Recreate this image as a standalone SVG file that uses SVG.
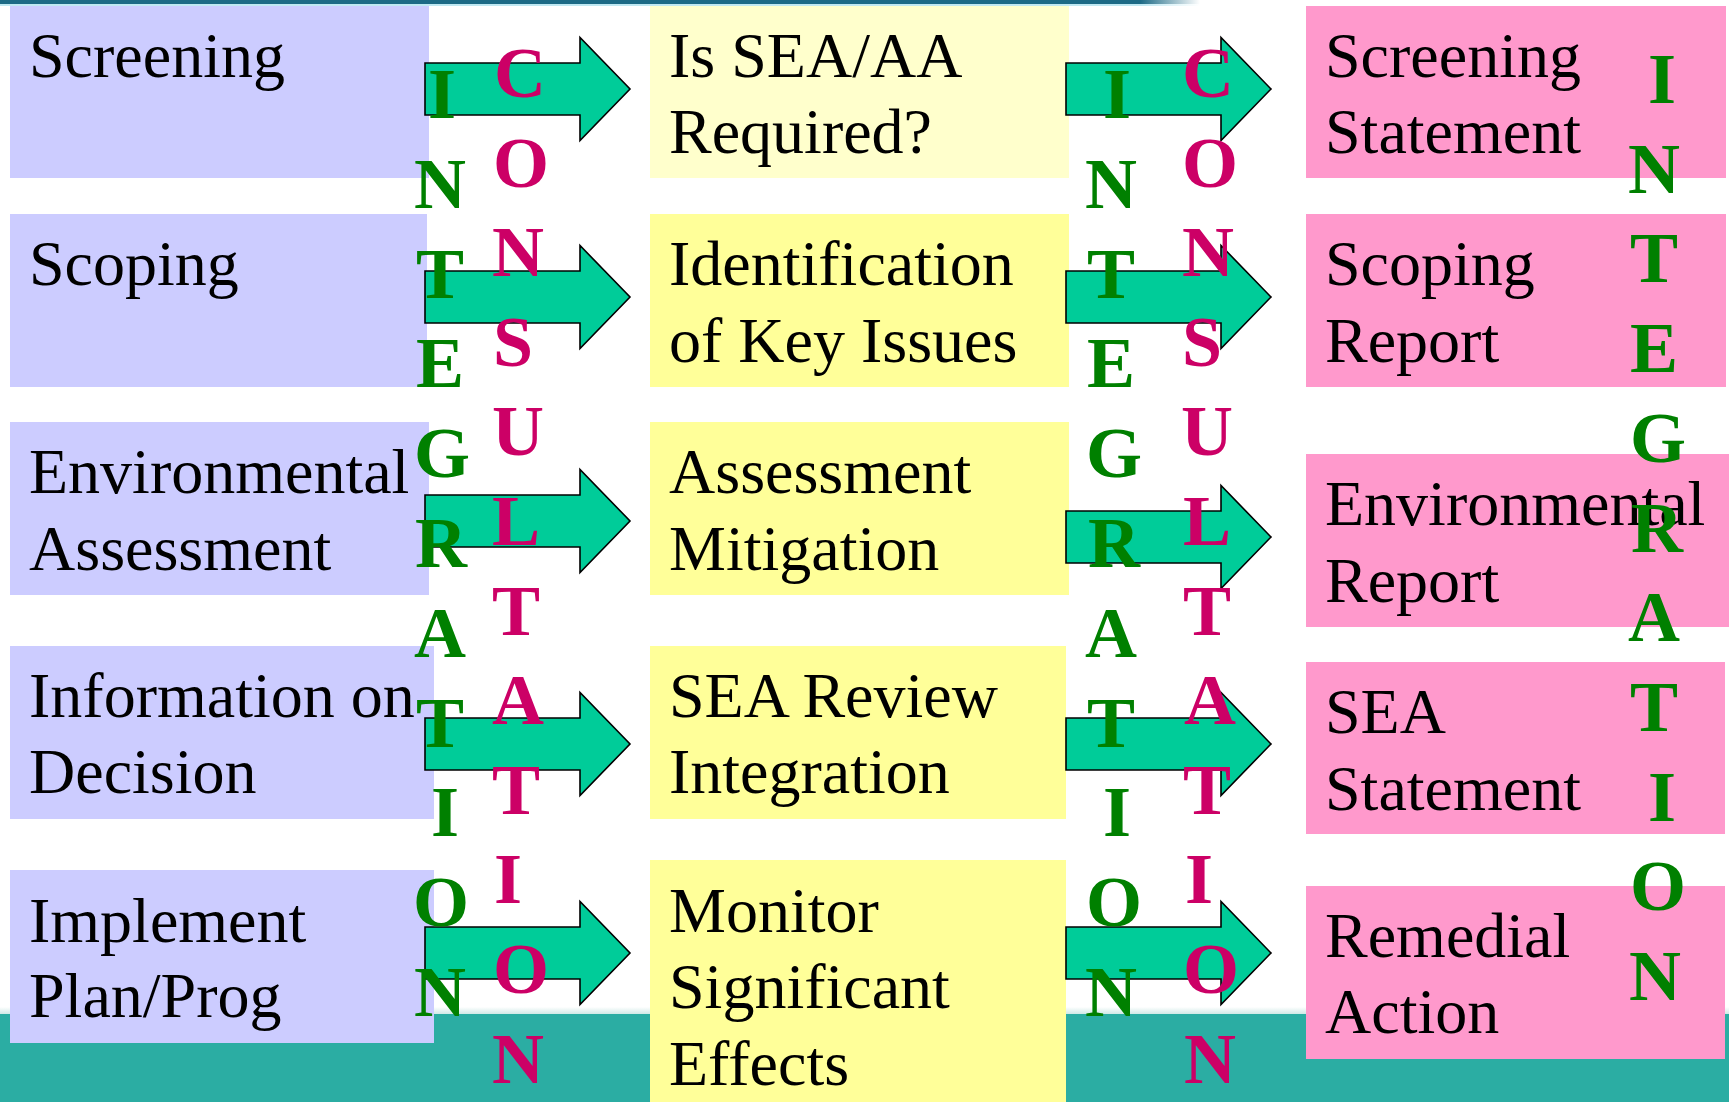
<svg xmlns="http://www.w3.org/2000/svg" width="1729" height="1102" viewBox="0 0 1729 1102">
  <defs>
    <linearGradient id="topLine" x1="0" y1="0" x2="1" y2="0">
      <stop offset="0" stop-color="#1C6A86"/>
      <stop offset="0.95" stop-color="#1C6A86"/>
      <stop offset="1" stop-color="#1C6A86" stop-opacity="0"/>
    </linearGradient>
    <linearGradient id="topGlow" x1="0" y1="0" x2="1" y2="0">
      <stop offset="0" stop-color="#BFE8F2"/>
      <stop offset="0.95" stop-color="#BFE8F2"/>
      <stop offset="1" stop-color="#BFE8F2" stop-opacity="0"/>
    </linearGradient>
    <linearGradient id="bandEdge" x1="0" y1="0" x2="0" y2="1">
      <stop offset="0" stop-color="#FFFFFF"/>
      <stop offset="1" stop-color="#CFE9E6"/>
    </linearGradient>
    <path id="arrow" d="M0,-26 H155 V-51.5 L205,0 L155,51.5 V26 H0 Z"/>
  </defs>
  <style>
    .lav { fill: #CCCCFF; }
    .yel1 { fill: #FFFFCC; }
    .yel { fill: #FFFF99; }
    .pink { fill: #FF99CC; }
    .lbl { font-family: "Liberation Serif", "Times New Roman", serif; font-size: 64px; fill: #000000; }
    .arr { fill: #00CC99; stroke: #000000; stroke-width: 1.6; stroke-linejoin: miter; }
    .vg { font-family: "Liberation Serif", "Times New Roman", serif; font-size: 72px; font-weight: bold; fill: #008000; text-anchor: middle; }
    .vm { font-family: "Liberation Serif", "Times New Roman", serif; font-size: 72px; font-weight: bold; fill: #CC0066; text-anchor: middle; }
  </style>

  <!-- background -->
  <rect x="0" y="0" width="1729" height="1102" fill="#FFFFFF"/>
  <rect x="0" y="0" width="1200" height="4" fill="url(#topLine)"/>
  <rect x="0" y="4" width="1200" height="2" fill="url(#topGlow)"/>
  <rect x="0" y="1007" width="1729" height="7" fill="url(#bandEdge)"/>
  <rect x="0" y="1014" width="1729" height="88" fill="#2BADA3"/>

  <!-- left column -->
  <g id="n-screening">
    <rect class="lav" x="10" y="6" width="419" height="172"/>
    <text class="lbl" x="29" y="77">Screening</text>
  </g>
  <g id="n-scoping">
    <rect class="lav" x="10" y="214" width="417" height="173"/>
    <text class="lbl" x="29" y="285">Scoping</text>
  </g>
  <g id="n-env-assessment">
    <rect class="lav" x="10" y="422" width="419" height="173"/>
    <text class="lbl" x="29" y="493">Environmental</text>
    <text class="lbl" x="29" y="570">Assessment</text>
  </g>
  <g id="n-info-decision">
    <rect class="lav" x="10" y="646" width="424" height="173"/>
    <text class="lbl" x="29" y="717">Information on</text>
    <text class="lbl" x="29" y="793">Decision</text>
  </g>
  <g id="n-implement">
    <rect class="lav" x="10" y="870" width="424" height="173"/>
    <text class="lbl" x="29" y="942">Implement</text>
    <text class="lbl" x="29" y="1017">Plan/Prog</text>
  </g>

  <!-- middle column -->
  <g id="n-required">
    <rect class="yel1" x="650" y="6" width="419" height="172"/>
    <text class="lbl" x="669" y="77">Is SEA/AA</text>
    <text class="lbl" x="669" y="153">Required?</text>
  </g>
  <g id="n-key-issues">
    <rect class="yel" x="650" y="214" width="419" height="173"/>
    <text class="lbl" x="669" y="285">Identification</text>
    <text class="lbl" x="669" y="362">of Key Issues</text>
  </g>
  <g id="n-mitigation">
    <rect class="yel" x="650" y="422" width="419" height="173"/>
    <text class="lbl" x="669" y="493">Assessment</text>
    <text class="lbl" x="669" y="570">Mitigation</text>
  </g>
  <g id="n-review">
    <rect class="yel" x="650" y="646" width="416" height="173"/>
    <text class="lbl" x="669" y="717">SEA Review</text>
    <text class="lbl" x="669" y="793">Integration</text>
  </g>
  <g id="n-monitor">
    <rect class="yel" x="650" y="860" width="416" height="242"/>
    <text class="lbl" x="669" y="932">Monitor</text>
    <text class="lbl" x="669" y="1008">Significant</text>
    <text class="lbl" x="669" y="1085">Effects</text>
  </g>

  <!-- right column -->
  <g id="n-screening-statement">
    <rect class="pink" x="1306" y="6" width="420" height="172"/>
    <text class="lbl" x="1325" y="77">Screening</text>
    <text class="lbl" x="1325" y="153">Statement</text>
  </g>
  <g id="n-scoping-report">
    <rect class="pink" x="1306" y="214" width="420" height="173"/>
    <text class="lbl" x="1325" y="285">Scoping</text>
    <text class="lbl" x="1325" y="362">Report</text>
  </g>
  <g id="n-env-report">
    <rect class="pink" x="1306" y="454" width="423" height="173"/>
    <text class="lbl" x="1325" y="525">Environmental</text>
    <text class="lbl" x="1325" y="602">Report</text>
  </g>
  <g id="n-sea-statement">
    <rect class="pink" x="1306" y="662" width="419" height="172"/>
    <text class="lbl" x="1325" y="733">SEA</text>
    <text class="lbl" x="1325" y="810">Statement</text>
  </g>
  <g id="n-remedial">
    <rect class="pink" x="1306" y="886" width="419" height="173"/>
    <text class="lbl" x="1325" y="957">Remedial</text>
    <text class="lbl" x="1325" y="1033">Action</text>
  </g>

  <!-- connectors -->
  <g id="connectors">
    <use href="#arrow" class="arr" transform="translate(425,89)"/>
    <use href="#arrow" class="arr" transform="translate(425,297)"/>
    <use href="#arrow" class="arr" transform="translate(425,521)"/>
    <use href="#arrow" class="arr" transform="translate(425,744)"/>
    <use href="#arrow" class="arr" transform="translate(425,953)"/>
    <use href="#arrow" class="arr" transform="translate(1066,89)"/>
    <use href="#arrow" class="arr" transform="translate(1066,297)"/>
    <use href="#arrow" class="arr" transform="translate(1066,537)"/>
    <use href="#arrow" class="arr" transform="translate(1066,744)"/>
    <use href="#arrow" class="arr" transform="translate(1066,953)"/>
  </g>

  <!-- vertical words -->
  <g id="integration-left">
    <text class="vg"><tspan x="442" y="118">I</tspan><tspan x="440" y="208">N</tspan><tspan x="440" y="298">T</tspan><tspan x="440" y="387">E</tspan><tspan x="442" y="477">G</tspan><tspan x="441" y="567">R</tspan><tspan x="440" y="657">A</tspan><tspan x="440" y="747">T</tspan><tspan x="445" y="836">I</tspan><tspan x="441" y="926">O</tspan><tspan x="440" y="1016">N</tspan></text>
  </g>
  <g id="consultation-left">
    <text class="vm"><tspan x="520" y="97">C</tspan><tspan x="521" y="187">O</tspan><tspan x="518" y="276">N</tspan><tspan x="513" y="366">S</tspan><tspan x="518" y="455">U</tspan><tspan x="516" y="545">L</tspan><tspan x="516" y="635">T</tspan><tspan x="518" y="724">A</tspan><tspan x="516" y="814">T</tspan><tspan x="508" y="903">I</tspan><tspan x="521" y="993">O</tspan><tspan x="518" y="1083">N</tspan></text>
  </g>
  <g id="integration-middle">
    <text class="vg"><tspan x="1117" y="118">I</tspan><tspan x="1111" y="208">N</tspan><tspan x="1111" y="298">T</tspan><tspan x="1111" y="387">E</tspan><tspan x="1114" y="477">G</tspan><tspan x="1114" y="567">R</tspan><tspan x="1111" y="657">A</tspan><tspan x="1111" y="747">T</tspan><tspan x="1117" y="836">I</tspan><tspan x="1114" y="926">O</tspan><tspan x="1111" y="1016">N</tspan></text>
  </g>
  <g id="consultation-middle">
    <text class="vm"><tspan x="1208" y="97">C</tspan><tspan x="1210" y="187">O</tspan><tspan x="1208" y="276">N</tspan><tspan x="1202" y="366">S</tspan><tspan x="1207" y="455">U</tspan><tspan x="1207" y="545">L</tspan><tspan x="1207" y="635">T</tspan><tspan x="1210" y="724">A</tspan><tspan x="1207" y="814">T</tspan><tspan x="1199" y="903">I</tspan><tspan x="1211" y="993">O</tspan><tspan x="1210" y="1083">N</tspan></text>
  </g>
  <g id="integration-right">
    <text class="vg"><tspan x="1662" y="103">I</tspan><tspan x="1654" y="193">N</tspan><tspan x="1654" y="282">T</tspan><tspan x="1654" y="372">E</tspan><tspan x="1658" y="462">G</tspan><tspan x="1657" y="552">R</tspan><tspan x="1654" y="641">A</tspan><tspan x="1654" y="731">T</tspan><tspan x="1662" y="821">I</tspan><tspan x="1658" y="910">O</tspan><tspan x="1655" y="1000">N</tspan></text>
  </g>
</svg>
